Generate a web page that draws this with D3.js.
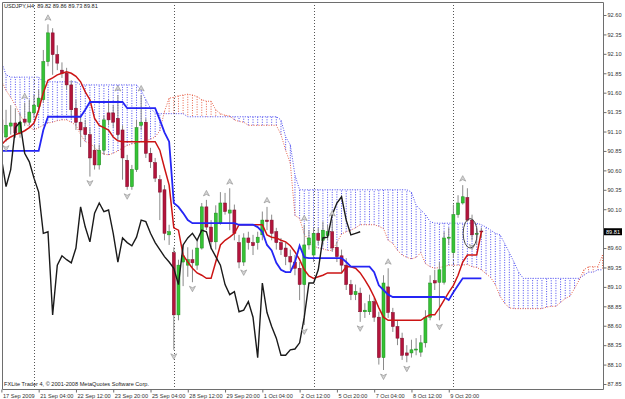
<!DOCTYPE html>
<html>
<head>
<meta charset="utf-8">
<script src="https://cdn.jsdelivr.net/npm/d3@7"></script>
<style>
  body { margin: 0; background: #fff; }
  text { font-family: "Liberation Sans", Arial, sans-serif; }
</style>
</head>
<body>
<div id="chart"></div>
<script>
var W = 625, H = 399;
var frame = { left: 2, right: 603, top: 2, bottom: 389 };
var barStep = 4.66, firstX = 1.38;

// bar labels sit on every 8th H4 bar
var timeLabels = ["17 Sep 2009", "21 Sep 04:00", "22 Sep 12:00", "23 Sep 20:00", "25 Sep 04:00",
  "28 Sep 12:00", "29 Sep 20:00", "1 Oct 04:00", "2 Oct 12:00", "5 Oct 20:00",
  "7 Oct 04:00", "8 Oct 12:00", "9 Oct 20:00"];
var labelBars = [0, 8, 16, 24, 32, 40, 48, 56, 64, 72, 80, 88, 96];
var separatorBars = [7, 37, 67, 97];
var priceTicks = [92.60, 92.35, 92.10, 91.85, 91.60, 91.35, 91.10, 90.85, 90.60, 90.35,
  90.10, 89.85, 89.60, 89.35, 89.10, 88.85, 88.60, 88.35, 88.10, 87.85];

var open = [91.25, 91.03, 91.17, 91.21, 91.08, 91.26, 91.22, 91.34, 91.42, 91.51,
  92.00, 92.37, 92.09, 91.89, 91.85, 91.70, 91.40, 91.22, 91.15, 91.06,
  90.86, 90.67, 90.86, 91.34, 91.34, 91.27, 91.12, 90.73, 90.39, 90.61,
  91.18, 91.22, 90.82, 90.70, 90.48, 90.35, 89.77, 89.54, 88.74, 89.42,
  89.38, 89.45, 89.38, 89.60, 90.13, 89.87, 89.68, 89.92, 90.18, 90.05,
  90.09, 89.67, 89.42, 89.73, 89.67, 89.67, 89.77, 89.96, 89.96, 89.81,
  89.67, 89.60, 89.49, 89.42, 89.34, 89.13, 89.64, 89.51, 89.79, 89.70,
  89.76, 89.81, 89.61, 89.50, 89.38, 89.13, 89.00, 89.02, 88.78, 88.78,
  88.91, 88.71, 88.19, 89.10, 88.77, 88.59, 88.44, 88.25, 88.25, 88.29,
  88.26, 88.38, 88.71, 89.18, 89.16, 89.16, 89.74, 89.54, 90.03, 90.18,
  90.25, 89.96, 89.79, 89.82];
var high = [91.35, 91.38, 91.44, 91.40, 91.34, 91.47, 91.51, 91.57, 91.64, 92.15,
  92.48, 92.43, 92.21, 91.99, 91.92, 91.76, 91.51, 91.31, 91.25, 91.15,
  90.93, 90.93, 91.31, 91.51, 91.44, 91.57, 91.18, 90.80, 90.67, 91.25,
  91.57, 91.27, 90.89, 90.76, 90.54, 90.41, 89.90, 89.61, 89.45, 89.64,
  89.61, 89.58, 89.70, 90.18, 90.22, 89.96, 90.15, 90.32, 90.31, 90.37,
  90.16, 89.77, 89.79, 89.81, 89.77, 89.81, 90.07, 90.13, 90.03, 89.86,
  89.73, 89.67, 89.58, 89.51, 89.42, 89.90, 89.83, 89.86, 89.86, 89.94,
  89.90, 89.96, 89.68, 89.58, 89.47, 89.19, 89.13, 89.09, 88.89, 89.00,
  88.96, 88.78, 89.25, 89.34, 88.83, 88.67, 88.51, 88.35, 88.42, 88.44,
  88.48, 88.80, 89.25, 89.32, 89.42, 89.81, 89.86, 90.16, 90.28, 90.41,
  90.37, 90.03, 89.86, 89.86];
var low = [91.03, 90.97, 91.06, 91.02, 91.02, 91.17, 91.18, 91.27, 91.35, 91.47,
  91.94, 91.83, 91.89, 91.79, 91.64, 91.27, 91.12, 90.90, 90.99, 90.52,
  90.61, 90.61, 90.80, 91.18, 91.15, 90.99, 90.48, 90.35, 90.35, 90.58,
  91.12, 90.76, 90.63, 90.45, 89.96, 89.70, 89.64, 88.29, 88.67, 89.11,
  89.23, 89.16, 89.32, 89.58, 89.83, 89.58, 89.58, 89.90, 90.03, 89.83,
  89.70, 89.34, 89.37, 89.58, 89.51, 89.58, 89.70, 89.83, 89.70, 89.58,
  89.51, 89.38, 89.32, 89.25, 88.93, 88.61, 89.58, 89.42, 89.64, 89.64,
  89.70, 89.55, 89.42, 89.29, 89.06, 88.93, 88.93, 88.65, 88.70, 88.74,
  88.65, 88.10, 88.03, 88.70, 88.52, 88.35, 88.16, 88.13, 88.19, 88.22,
  88.20, 88.32, 88.67, 89.06, 88.67, 89.13, 89.64, 89.47, 89.99, 90.16,
  89.94, 89.70, 89.64, 89.73];
var close = [91.08, 91.18, 91.21, 91.08, 91.22, 91.22, 91.35, 91.44, 91.53, 92.00,
  92.37, 92.09, 91.98, 91.85, 91.70, 91.38, 91.22, 91.12, 91.06, 90.76,
  90.67, 90.86, 91.25, 91.25, 91.22, 91.06, 90.76, 90.39, 90.61, 91.15,
  91.22, 90.82, 90.71, 90.50, 90.32, 89.79, 89.81, 88.74, 89.38, 89.50,
  89.45, 89.41, 89.60, 90.13, 89.87, 89.68, 90.05, 90.18, 90.07, 90.09,
  89.79, 89.42, 89.73, 89.67, 89.63, 89.74, 89.96, 89.94, 89.79, 89.67,
  89.58, 89.49, 89.42, 89.34, 89.13, 89.64, 89.73, 89.79, 89.70, 89.83,
  89.81, 89.60, 89.49, 89.38, 89.13, 89.00, 89.04, 88.78, 88.80, 88.91,
  88.71, 88.19, 89.15, 88.77, 88.59, 88.44, 88.22, 88.22, 88.29, 88.30,
  88.38, 88.71, 89.15, 89.15, 89.32, 89.73, 89.74, 90.03, 90.18, 90.26,
  89.96, 89.77, 89.79, 89.81];

var tenkan = [90.93, 90.99, 91.03, 91.06, 91.08, 91.11, 91.15, 91.21, 91.38, 91.60,
  91.76, 91.79, 91.83, 91.85, 91.87, 91.85, 91.81, 91.74, 91.61, 91.51,
  91.27, 91.18, 91.15, 91.12, 91.03, 90.98, 90.97, 90.97, 90.97, 90.97,
  90.97, 90.97, 90.97, 90.97, 90.86, 90.63, 90.41, 89.86, 89.83, 89.51,
  89.42, 89.34, 89.28, 89.25, 89.21, 89.21, 89.42, 89.64, 89.70, 89.74,
  89.79, 89.90, 89.90, 89.90, 89.90, 89.90, 89.90, 89.77, 89.74, 89.73,
  89.70, 89.68, 89.63, 89.55, 89.45, 89.32, 89.24, 89.21, 89.23, 89.25,
  89.28, 89.28, 89.28, 89.28, 89.36, 89.36, 89.34, 89.28, 89.19, 89.09,
  88.97, 88.83, 88.71, 88.67, 88.67, 88.67, 88.67, 88.67, 88.67, 88.67,
  88.67, 88.71, 88.74, 88.74, 88.83, 88.93, 89.03, 89.12, 89.25, 89.42,
  89.51, 89.51, 89.51, 89.81];
var kijun = [90.85, 90.85, 90.85, 90.85, 90.85, 90.85, 90.85, 90.85, 90.85, 91.12,
  91.29, 91.29, 91.29, 91.29, 91.29, 91.29, 91.29, 91.29, 91.38, 91.48,
  91.48, 91.48, 91.48, 91.48, 91.48, 91.48, 91.48, 91.40, 91.40, 91.40,
  91.40, 91.40, 91.40, 91.40, 91.25, 91.09, 90.97, 90.18, 90.13, 90.05,
  89.96, 89.92, 89.92, 89.92, 89.92, 89.92, 89.92, 89.92, 89.92, 89.92,
  89.92, 89.90, 89.90, 89.90, 89.90, 89.87, 89.81, 89.64, 89.57, 89.41,
  89.32, 89.29, 89.29, 89.42, 89.63, 89.48, 89.47, 89.47, 89.47, 89.47,
  89.47, 89.47, 89.47, 89.47, 89.42, 89.36, 89.36, 89.36, 89.36, 89.36,
  89.29, 89.12, 89.06, 89.00, 88.97, 88.97, 88.97, 88.97, 88.97, 88.97,
  88.97, 88.97, 88.97, 88.97, 88.97, 88.97, 88.93, 89.03, 89.12, 89.21,
  89.21, 89.21, 89.21, 89.21];
// senkou spans run 26 bars past the last candle
var spanA = [91.76, 91.63, 91.54, 91.44, 91.31, 91.22, 91.16, 91.12, 91.15, 91.18,
  91.21, 91.22, 91.24, 91.25, 91.25, 91.22, 91.18, 91.06, 90.97, 90.95,
  90.89, 90.84, 90.81, 90.80, 90.82, 90.85, 90.89, 90.92, 90.94, 90.95,
  90.97, 90.98, 91.00, 91.03, 91.11, 91.36, 91.53, 91.54, 91.56, 91.57,
  91.58, 91.57, 91.55, 91.51, 91.49, 91.49, 91.38, 91.33, 91.31, 91.30,
  91.25, 91.23, 91.22, 91.18, 91.18, 91.18, 91.18, 91.18, 91.18, 91.18,
  91.06, 90.86, 90.69, 90.02, 89.98, 89.78, 89.69, 89.63, 89.60, 89.59,
  89.57, 89.57, 89.67, 89.78, 89.81, 89.83, 89.86, 89.90, 89.90, 89.90,
  89.90, 89.88, 89.85, 89.70, 89.66, 89.57, 89.51, 89.48, 89.46, 89.48,
  89.54, 89.40, 89.36, 89.34, 89.35, 89.36, 89.38, 89.38, 89.38, 89.38,
  89.39, 89.36, 89.35, 89.32, 89.27, 89.22, 89.13, 88.98, 88.89, 88.83,
  88.82, 88.82, 88.82, 88.82, 88.82, 88.82, 88.82, 88.84, 88.85, 88.85,
  88.90, 88.95, 88.98, 89.08, 89.19, 89.32, 89.36, 89.36, 89.36, 89.51];
var spanB = [92.00, 91.83, 91.80, 91.80, 91.80, 91.80, 91.80, 91.80, 91.80, 91.74,
  91.74, 91.74, 91.74, 91.74, 91.74, 91.74, 91.74, 91.70, 91.70, 91.70,
  91.70, 91.70, 91.70, 91.70, 91.70, 91.70, 91.70, 91.70, 91.70, 91.70,
  91.63, 91.51, 91.40, 91.34, 91.33, 91.33, 91.33, 91.33, 91.33, 91.33,
  91.29, 91.29, 91.29, 91.29, 91.29, 91.29, 91.29, 91.29, 91.29, 91.29,
  91.29, 91.29, 91.29, 91.29, 91.29, 91.29, 91.29, 91.29, 91.29, 91.29,
  91.25, 91.03, 90.93, 90.54, 90.35, 90.35, 90.35, 90.35, 90.35, 90.35,
  90.35, 90.35, 90.35, 90.35, 90.35, 90.35, 90.35, 90.35, 90.35, 90.35,
  90.35, 90.35, 90.35, 90.35, 90.35, 90.35, 90.35, 90.35, 90.32, 90.15,
  90.09, 90.03, 89.94, 89.92, 89.92, 89.92, 89.92, 89.92, 89.92, 89.92,
  89.92, 89.92, 89.92, 89.90, 89.87, 89.83, 89.79, 89.77, 89.66, 89.54,
  89.42, 89.29, 89.21, 89.21, 89.21, 89.21, 89.21, 89.21, 89.21, 89.21,
  89.21, 89.21, 89.21, 89.21, 89.21, 89.25, 89.29, 89.29, 89.32, 89.32];
// chikou span is the close moved back 26 bars
var chikou = close.slice(26);

var fractalUp = [5, 10, 25, 30, 44, 49, 57, 65, 71, 83, 99];
var fractalDown = [1, 19, 27, 37, 41, 52, 65, 77, 82, 87, 94, 101];
// hand drawn ellipse round the last few bars
var mark = { bar: 100.6, price: 89.79, bars: 1.5, prices: 0.19 };

var svg = d3.select("#chart")
  .append("svg")
  .attr("width", W)
  .attr("height", H)
  .style("display", "block");

var x = d3.scaleLinear()
  .domain([0, 1])
  .range([firstX, firstX + barStep]);
var y = d3.scaleLinear()
  .domain([87.85, 92.60])
  .range([384, 15]);

var last = close[close.length - 1];

svg.append("defs").append("clipPath")
  .attr("id", "plot")
  .append("rect")
  .attr("x", frame.left)
  .attr("y", frame.top)
  .attr("width", frame.right - frame.left)
  .attr("height", frame.bottom - frame.top);

var plot = svg.append("g").attr("clip-path", "url(#plot)");

// kumo hatch, one dotted vertical per bar
plot.append("g")
  .selectAll("line")
  .data(spanA.map(function (a, i) { return { i: i, a: a, b: spanB[i] }; }))
  .enter()
  .append("line")
  .attr("x1", function (d) { return x(d.i); })
  .attr("x2", function (d) { return x(d.i); })
  .attr("y1", function (d) { return y(d.a); })
  .attr("y2", function (d) { return y(d.b); })
  .attr("stroke", function (d) { return d.b >= d.a ? "#4a4af0" : "#e8634a"; })
  .attr("stroke-width", 1)
  .attr("stroke-dasharray", "1,1.5");

var line = d3.line()
  .x(function (d, i) { return x(i); })
  .y(function (d) { return y(d); });

plot.append("path")
  .attr("d", line(spanB))
  .attr("fill", "none")
  .attr("stroke", "#4a4af0")
  .attr("stroke-dasharray", "1,1.5");
plot.append("path")
  .attr("d", line(spanA))
  .attr("fill", "none")
  .attr("stroke", "#e8634a")
  .attr("stroke-dasharray", "1,1.5");

// weekly separators
plot.append("g")
  .selectAll("line")
  .data(separatorBars)
  .enter()
  .append("line")
  .attr("x1", function (d) { return Math.round(x(d)) + 0.5; })
  .attr("x2", function (d) { return Math.round(x(d)) + 0.5; })
  .attr("y1", frame.top)
  .attr("y2", frame.bottom)
  .attr("stroke", "#555")
  .attr("stroke-dasharray", "1,2");

// candles
var bars = open.map(function (o, i) {
  return { i: i, o: o, h: high[i], l: low[i], c: close[i] };
});
var candle = plot.append("g")
  .selectAll("g")
  .data(bars)
  .enter()
  .append("g");
candle.append("line")
  .attr("x1", function (d) { return x(d.i); })
  .attr("x2", function (d) { return x(d.i); })
  .attr("y1", function (d) { return y(d.h); })
  .attr("y2", function (d) { return y(d.l); })
  .attr("stroke", "#8a8a8a")
  .attr("stroke-width", 1);
candle.append("rect")
  .attr("x", function (d) { return x(d.i) - 1.5; })
  .attr("width", 3)
  .attr("y", function (d) { return y(Math.max(d.o, d.c)); })
  .attr("height", function (d) { return Math.max(1, Math.abs(y(d.o) - y(d.c))); })
  .attr("fill", function (d) { return d.c >= d.o ? "#35c235" : "#b3143c"; })
  .attr("stroke", function (d) { return d.c >= d.o ? "#1f8a1f" : "#7a0c28"; })
  .attr("stroke-width", 0.5);

plot.append("path")
  .attr("d", line(tenkan))
  .attr("fill", "none")
  .attr("stroke", "#cc1414")
  .attr("stroke-width", 1.5);
plot.append("path")
  .attr("d", line(kijun))
  .attr("fill", "none")
  .attr("stroke", "#2525f5")
  .attr("stroke-width", 1.8);
plot.append("path")
  .attr("d", line(chikou))
  .attr("fill", "none")
  .attr("stroke", "#1a1a1a")
  .attr("stroke-width", 1.4);

// fractal arrows
var arrowUp = "M-3,3 L0,-2.5 L3,3 L0,1.5 Z";
var arrowDown = "M-3,-3 L0,2.5 L3,-3 L0,-1.5 Z";
plot.append("g")
  .selectAll("path")
  .data(fractalUp)
  .enter()
  .append("path")
  .attr("d", arrowUp)
  .attr("transform", function (d) { return "translate(" + x(d) + "," + (y(high[d]) - 7) + ")"; })
  .attr("fill", "#d4d4d4")
  .attr("stroke", "#8c8c8c")
  .attr("stroke-width", 0.6);
plot.append("g")
  .selectAll("path")
  .data(fractalDown)
  .enter()
  .append("path")
  .attr("d", arrowDown)
  .attr("transform", function (d) { return "translate(" + x(d) + "," + (y(low[d]) + 7) + ")"; })
  .attr("fill", "#d4d4d4")
  .attr("stroke", "#8c8c8c")
  .attr("stroke-width", 0.6);

plot.append("ellipse")
  .attr("cx", x(mark.bar))
  .attr("cy", y(mark.price))
  .attr("rx", x(mark.bars) - x(0))
  .attr("ry", y(mark.price - mark.prices) - y(mark.price))
  .attr("fill", "none")
  .attr("stroke", "#4a4a4a")
  .attr("stroke-width", 1);

// frame
svg.append("path")
  .attr("d", "M" + (frame.left + 0.5) + "," + (frame.top + 0.5) +
    " V" + (frame.bottom + 0.5) + " H" + (frame.right + 0.5) + " V" + (frame.top + 0.5) +
    " H" + (frame.left + 0.5))
  .attr("fill", "none")
  .attr("stroke", "#6e6e6e");

// price axis; the tick under the last price tag is covered, as in the terminal
var yAxis = svg.append("g")
  .attr("transform", "translate(" + (frame.right + 0.5) + ",0)")
  .call(d3.axisRight(y).tickValues(priceTicks).tickSize(3).tickPadding(1)
    .tickFormat(function (d) { return Math.abs(y(d) - y(last)) < 7 ? "" : d3.format(".2f")(d); }));
yAxis.select(".domain").remove();
yAxis.selectAll("line").attr("stroke", "#6e6e6e");
yAxis.selectAll("text")
  .attr("font-size", 5.6)
  .attr("font-family", "Liberation Sans, Arial, sans-serif")
  .attr("fill", "#333");

// time axis
var xAxis = svg.append("g")
  .attr("transform", "translate(0," + (frame.bottom + 0.5) + ")")
  .call(d3.axisBottom(x).tickValues(labelBars).tickSize(3).tickPadding(2)
    .tickFormat(function (d, i) { return timeLabels[i]; }));
xAxis.select(".domain").remove();
xAxis.selectAll("line").attr("stroke", "#6e6e6e");
xAxis.selectAll("text")
  .attr("text-anchor", "start")
  .attr("dx", 1)
  .attr("font-size", 5.6)
  .attr("font-family", "Liberation Sans, Arial, sans-serif")
  .attr("fill", "#333");

// last price tag
svg.append("rect")
  .attr("x", frame.right + 1)
  .attr("y", y(last) - 3.5)
  .attr("width", 18)
  .attr("height", 7)
  .attr("fill", "#000");
svg.append("text")
  .attr("x", frame.right + 3)
  .attr("y", y(last) + 2)
  .attr("font-size", 5.6)
  .attr("fill", "#fff")
  .text(d3.format(".2f")(last));

svg.append("text")
  .attr("x", 4)
  .attr("y", 8)
  .attr("font-size", 5.6)
  .attr("fill", "#222")
  .attr("xml:space", "preserve")
  .text("USDJPY,H4  " + [open[103], high[103], low[103], close[103]].map(d3.format(".2f")).join(" "));

svg.append("text")
  .attr("x", 4)
  .attr("y", 386)
  .attr("font-size", 5.6)
  .attr("fill", "#222")
  .text("FXLite Trader 4, \u00a9 2001-2008 MetaQuotes Software Corp.");
</script>
</body>
</html>
